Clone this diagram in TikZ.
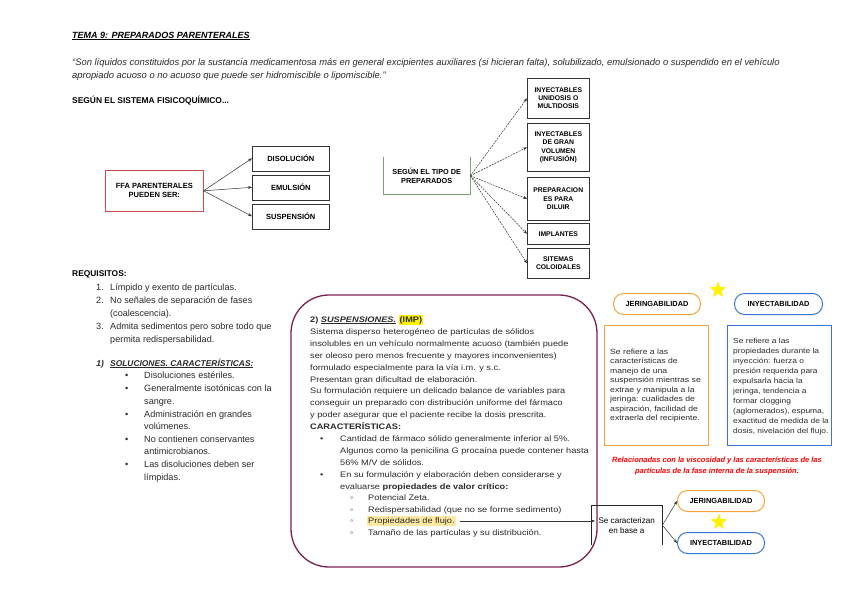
\documentclass[tikz,border=0pt]{standalone}
\usepackage{fontspec}
\setmainfont{Liberation Sans}
\newfontfamily\widefont[FakeStretch=1.15]{Liberation Sans}
\usetikzlibrary{shapes.geometric,arrows.meta}
\definecolor{suspc}{HTML}{7B2150}
\definecolor{orng}{HTML}{F7A23A}
\definecolor{blu}{HTML}{3D74D6}
\definecolor{grn}{HTML}{7FA36E}
\definecolor{redb}{HTML}{CC4A4A}
\definecolor{hly}{HTML}{FFF200}
\definecolor{hlo}{HTML}{FFE8A0}
\definecolor{txt}{HTML}{2A2A2A}
\setlength{\fboxsep}{1pt}
\tikzset{
  sbox/.style={draw=black!80, line width=0.6pt, align=center, inner sep=0pt,
    font=\bfseries\fontsize{6.8}{8.2}\selectfont, anchor=north west},
  bigbox/.style={sbox, font=\bfseries\fontsize{7.5}{9}\selectfont},
  obox/.style={align=center, inner sep=0pt, font=\bfseries\fontsize{7.3}{8.6}\selectfont, anchor=north west},
  pill/.style={line width=1pt, rounded corners=10pt, align=center, inner sep=0pt,
    font=\bfseries\fontsize{7.4}{8}\selectfont, anchor=north west, minimum width=87pt, minimum height=21pt},
  ln/.style={anchor=base west, inner sep=0pt, text=txt, font=\fontsize{9.1}{10}\selectfont},
  sl/.style={anchor=base west, inner sep=0pt, text=txt, font=\widefont\fontsize{8}{10}\selectfont},
  tl/.style={anchor=base west, inner sep=0pt, text=txt, align=left},
  arr/.style={-{Stealth[length=4pt,width=3pt]}, line width=0.5pt, black!80},
  darr/.style={arr, dash pattern=on 2pt off 1pt},
  ystar/.style={star, star points=5, star point ratio=2.3, fill=hly, draw=none, minimum size=17pt, inner sep=0pt}
}
\begin{document}
\begin{tikzpicture}[x=1pt,y=-1pt]
\useasboundingbox[fill=white] (0,0) rectangle (848,600);

% header
\node[anchor=base west, inner sep=0pt, font=\bfseries\itshape\fontsize{9}{10}\selectfont] (title) at (72,38) {\underline{TEMA 9: PREPARADOS PARENTERALES}};
\node[anchor=base west, inner sep=0pt, align=left, text=txt, font=\itshape\fontsize{9.4}{13}\selectfont] (quote) at (72,78) {``Son líquidos constituidos por la sustancia medicamentosa más en general excipientes auxiliares (si hicieran falta), solubilizado, emulsionado o suspendido en el vehículo\\apropiado acuoso o no acuoso que puede ser hidromiscible o lipomiscible.''};
\node[anchor=base west, inner sep=0pt, font=\bfseries\fontsize{8.4}{10}\selectfont] (segun) at (72,103) {SEGÚN EL SISTEMA FISICOQUÍMICO...};

% FFA diagram
\node[bigbox, draw=redb, minimum width=98pt, minimum height=41pt] (ffa) at (105,170) {FFA PARENTERALES\\PUEDEN SER:};
\node[bigbox, minimum width=77pt, minimum height=25pt] (dis) at (252,145.5) {DISOLUCIÓN};
\node[bigbox, minimum width=77pt, minimum height=25pt] (emu) at (252,174.5) {EMULSIÓN};
\node[bigbox, minimum width=77pt, minimum height=25pt] (sus) at (252,203.5) {SUSPENSIÓN};
\draw[arr] (ffa.east) -- (dis.west);
\draw[arr] (ffa.east) -- (emu.west);
\draw[arr] (ffa.east) -- (sus.west);

% tipo de preparados
\node[obox, minimum width=87pt, minimum height=37pt] (tipo) at (383,157) {SEGÚN EL TIPO DE\\PREPARADOS};
\draw[grn, line width=0.8pt] (tipo.north west) -- (tipo.south west) -- (tipo.south east) -- (tipo.north east);
\node[sbox, minimum width=62pt, minimum height=40pt] (b1) at (527,78) {INYECTABLES\\UNIDOSIS O\\MULTIDOSIS};
\node[sbox, minimum width=62pt, minimum height=48pt] (b2) at (527,123) {INYECTABLES\\DE GRAN\\VOLUMEN\\(INFUSIÓN)};
\node[sbox, minimum width=62pt, minimum height=43pt] (b3) at (527,177) {PREPARACION\\ES PARA\\DILUIR};
\node[sbox, minimum width=62pt, minimum height=21pt] (b4) at (527,223) {IMPLANTES};
\node[sbox, minimum width=62pt, minimum height=30pt] (b5) at (527,248) {SITEMAS\\COLOIDALES};
\foreach \b in {b1,b2,b3,b4,b5} \draw[darr] (tipo.east) -- (\b.west);

% requisitos
\node[anchor=base west, inner sep=0pt, font=\bfseries\fontsize{8.4}{10}\selectfont] (req) at (72,276) {REQUISITOS:};
\node[ln, anchor=base east] (n1) at (104,290) {1.};
\node[ln] (r1) at (110,290) {Límpido y exento de partículas.};
\node[ln, anchor=base east] (n2) at (104,303) {2.};
\node[ln] (r2) at (110,303) {No señales de separación de fases};
\node[ln] (r2b) at (110,316) {(coalescencia).};
\node[ln, anchor=base east] (n3) at (104,329) {3.};
\node[ln] (r3) at (110,329) {Admita sedimentos pero sobre todo que};
\node[ln] (r3b) at (110,342) {permita redispersabilidad.};

\node[ln, font=\bfseries\itshape\fontsize{8.4}{10}\selectfont, anchor=base east] (s1n) at (104,366) {1)};
\node[ln, font=\bfseries\itshape\fontsize{8.4}{10}\selectfont] (sol) at (110,366) {\underline{SOLUCIONES. CARACTERÍSTICAS:}};
\foreach \y in {378,391,417,442,467} \node[ln] at (125,\y) {•};
\node[ln] (c1) at (144,378) {Disoluciones estériles.};
\node[ln] (c2) at (144,391) {Generalmente isotónicas con la};
\node[ln] (c2b) at (144,404) {sangre.};
\node[ln] (c3) at (144,417) {Administración en grandes};
\node[ln] (c3b) at (144,429) {volúmenes.};
\node[ln] (c4) at (144,442) {No contienen conservantes};
\node[ln] (c4b) at (144,454) {antimicrobianos.};
\node[ln] (c5) at (144,467) {Las disoluciones deben ser};
\node[ln] (c5b) at (144,480) {límpidas.};

% suspensiones box
\draw[suspc, line width=1.3pt, rounded corners=38pt] (291,295) rectangle (597,567);
\node[sl] (s1) at (310,322) {\textbf{2) \textit{\underline{SUSPENSIONES.}}} \colorbox{hly}{\textbf{(IMP)}}};
\node[sl] (s2) at (310,334) {Sistema disperso heterogéneo de partículas de sólidos};
\node[sl] (s3) at (310,346) {insolubles en un vehículo normalmente acuoso (también puede};
\node[sl] (s4) at (310,358) {ser oleoso pero menos frecuente y mayores inconvenientes)};
\node[sl] (s5) at (310,370) {formulado especialmente para la vía i.m. y s.c.};
\node[sl] (s6) at (310,382) {Presentan gran dificultad de elaboración.};
\node[sl] (s7) at (310,393) {Su formulación requiere un delicado balance de variables para};
\node[sl] (s8) at (310,405) {conseguir un preparado con distribución uniforme del fármaco};
\node[sl] (s9) at (310,417) {y poder asegurar que el paciente recibe la dosis prescrita.};
\node[sl] (s10) at (310,429) {\textbf{CARACTERÍSTICAS:}};
\node[sl] (bu1) at (320,441) {•};
\node[sl] (s11) at (340,441) {Cantidad de fármaco sólido generalmente inferior al 5\%.};
\node[sl] (s12) at (340,453) {Algunos como la penicilina G procaína puede contener hasta};
\node[sl] (s13) at (340,465) {56\% M/V de sólidos.};
\node[sl] (bu2) at (320,477) {•};
\node[sl] (s14) at (340,477) {En su formulación y elaboración deben considerarse y};
\node[sl] (s15) at (340,489) {evaluarse \textbf{propiedades de valor crítico:}};
\foreach \y in {500,512,523,535} \node[sl] at (350,\y) {◦};
\node[sl, fill=hlo, inner xsep=1pt, inner ysep=1.5pt] (s18) at (367,523) {Propiedades de flujo.};
\node[sl] (s16) at (368,500) {Potencial Zeta.};
\node[sl] (s17) at (368,512) {Redispersabilidad (que no se forme sedimento)};
\node[sl] (s19) at (368,535) {Tamaño de las partículas y su distribución.};

% caracterizan
\node[obox, font=\fontsize{8.1}{10}\selectfont, minimum width=71pt, minimum height=40pt] (car) at (591,505) {Se caracterizan\\en base a};
\draw[black!85, line width=0.7pt] (car.south west) -- (car.north west) -- (car.north east) -- (car.south east);
\draw[arr] ([xshift=4pt]s18.east) -- ([xshift=4pt]s18.east -| car.west);
\node[pill, draw=orng] (jer2) at (677,490) {JERINGABILIDAD};
\node[pill, draw=blu] (iny2) at (677,532) {INYECTABILIDAD};
\draw[arr] (car.east) -- (jer2.west);
\draw[arr] (car.east) -- (iny2.west);
\node[ystar] (st2) at (719,522) {};

% top right
\node[pill, draw=orng] (jer1) at (613,293) {JERINGABILIDAD};
\node[pill, draw=blu, minimum width=88pt] (iny1) at (734,293) {INYECTABILIDAD};
\node[ystar] (st1) at (718,290) {};
\node[draw=orng, line width=1.1pt, anchor=north west, minimum width=104pt, minimum height=120pt] (ob) at (604,325) {};
\node[draw=blu, line width=1.1pt, anchor=north west, minimum width=104pt, minimum height=120pt] (bb) at (727,325) {};
\node[tl, font=\widefont\fontsize{7.5}{9.5}\selectfont] (otext) at (610,420.5) {Se refiere a las\\características de\\manejo de una\\suspensión mientras se\\extrae y manipula a la\\jeringa: cualidades de\\aspiración, facilidad de\\extraerla del recipiente.};
\node[tl, font=\widefont\fontsize{7.3}{9.9}\selectfont] (btext) at (733,433) {Se refiere a las\\propiedades durante la\\inyección: fuerza o\\presión requerida para\\expulsarla hacia la\\jeringa, tendencia a\\formar clogging\\(aglomerados), espuma,\\exactitud de medida de la\\dosis, nivelación del flujo.};
\node[inner sep=0pt, align=center, text=red, font=\bfseries\itshape\fontsize{7.5}{11}\selectfont] (rel) at (717,466.5) {Relacionadas con la viscosidad y las características de las\\partículas de la fase interna de la suspensión.};
\end{tikzpicture}
\end{document}
